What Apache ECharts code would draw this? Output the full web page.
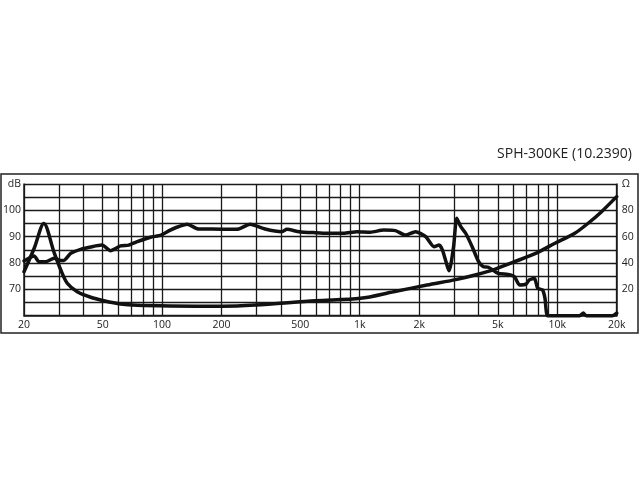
<!DOCTYPE html>
<html>
<head>
<meta charset="utf-8">
<script src="https://cdn.jsdelivr.net/npm/echarts@6/dist/echarts.min.js"></script>
<style>html,body{margin:0;padding:0;background:#fff}#c{width:640px;height:480px}</style>
</head>
<body>
<div id="c"></div>
<script>
// Frequency grid (Hz)
var gridFreqs = [20,30,40,50,60,70,80,90,100,200,300,400,500,600,700,800,900,1000,2000,3000,4000,5000,6000,7000,8000,9000,10000,20000];
var labelFreqs = [20,50,100,200,500,1000,2000,5000,10000,20000];
// Impedance curve
var impFreq = [20,22.5,25.2,28.4,30.7,33.1,37.2,43.5,50.7,61.6,74.8,110,200,296,598,1010,1486,2192,3112,3840,4820,6080,7670,9740,12270,14340,16760,20000];
var impOhm  = [33.4,51,70,48,34.7,24.6,18.2,14,11.4,8.9,7.9,7.4,7.2,8.1,11.4,13.2,18.2,23.3,27.6,30.9,35.2,41,46.9,55,62.6,70.2,79,90.4];
// SPL curve
var splFreq = [20,22.5,23.8,25.7,28.4,30.7,31.8,34.5,38.7,44.2,49.6,54.8,61.6,67.9,74.8,87.3,98.9,110,117,134,153,179,226,244,279,332,404,428,494,598,683,829,969,1133,1324,1517,1706,1918,2159,2380,2524,2625,2838,2988,3100,3250,3440,3710,4000,4230,4480,5020,5630,6080,6440,6950,7220,7670,7960,8430,8670,8940,10000,13000,13550,14000,19000,20000];
var splDb   = [80.8,82.7,80.5,80.5,81.8,81,81,83.7,85.2,86.2,86.8,84.7,86.5,86.8,88.1,89.8,90.6,92.5,93.4,94.7,92.9,92.9,92.8,92.9,94.7,92.9,91.9,92.8,91.9,91.5,91.3,91.3,91.9,91.7,92.5,92.3,90.6,91.9,90,86.2,86.8,84.9,77.1,86.2,97,93.8,91.3,86.2,80.5,78.6,78.4,76.1,75.7,74.8,71.7,72,73.6,74.2,70.4,69.8,66.6,60,60,60,61,60,60,61];
var titleText = 'SPH-300KE (10.2390)';

function lg(f){ return Math.log10(f); }
function fmtF(v){
  var f = Math.round(Math.pow(10, v));
  return f >= 1000 ? (f/1000) + 'k' : String(f);
}
var fontFam = '"Open Sans", "Noto Sans", sans-serif';
var chart = echarts.init(document.getElementById('c'), null, {renderer:'canvas'});
chart.setOption({
  animation:false,
  backgroundColor:'#fff',
  title:{text:titleText, right:3, top:142, textStyle:{fontFamily:fontFam, fontSize:14, fontWeight:'normal', color:'#222'}},
  graphic:[{type:'rect', shape:{x:1, y:174, width:637, height:159}, style:{fill:'none', stroke:'#222', lineWidth:1.5}, z:-1}],
  grid:{left:23.3, right:23.3, top:184, bottom:164.3},
  xAxis:{
    type:'value', min:lg(20), max:lg(20000),
    axisLine:{show:true, lineStyle:{color:'#1a1a1a', width:1.5}},
    axisTick:{show:false, customValues:gridFreqs.map(lg)},
    splitLine:{show:true, lineStyle:{color:'#1a1a1a', width:1.3}},
    axisLabel:{customValues:labelFreqs.map(lg), formatter:fmtF, margin:4, fontFamily:fontFam, fontSize:10.5, color:'#222'}
  },
  yAxis:[
    {type:'value', min:60, max:110, interval:5,
     axisLine:{show:true, lineStyle:{color:'#1a1a1a', width:1.5}},
     axisTick:{show:false},
     splitLine:{show:true, lineStyle:{color:'#1a1a1a', width:1.3}},
     axisLabel:{margin:3, fontFamily:fontFam, fontSize:10.5, color:'#222',
       formatter:function(v){ if(v===110) return 'dB'; return (v>=70 && v<=100 && v%10===0) ? String(v) : ''; }}},
    {type:'value', min:0, max:100, interval:10, position:'right',
     axisLine:{show:true, lineStyle:{color:'#1a1a1a', width:1.5}},
     axisTick:{show:false},
     splitLine:{show:false},
     axisLabel:{margin:5, fontFamily:fontFam, fontSize:10.5, color:'#222',
       formatter:function(v){ if(v===100) return 'Ω'; return (v>=20 && v<=80 && v%20===0) ? String(v) : ''; }}}
  ],
  series:[
    {type:'line', yAxisIndex:0, clip:false, symbol:'none', smooth:0.2,
     lineStyle:{color:'#111', width:3.5, join:'round', cap:'round'},
     data:splFreq.map(function(f,i){ return [lg(f), splDb[i]]; })},
    {type:'line', yAxisIndex:1, clip:false, symbol:'none', smooth:0.3,
     lineStyle:{color:'#111', width:3.5, join:'round', cap:'round'},
     data:impFreq.map(function(f,i){ return [lg(f), impOhm[i]]; })}
  ]
});
</script>
</body>
</html>
